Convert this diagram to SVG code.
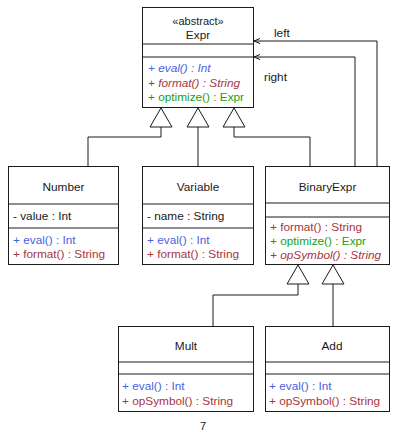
<svg xmlns="http://www.w3.org/2000/svg" width="394" height="432" viewBox="0 0 394 432">
<defs>
<style>
.box{fill:#fff;stroke:#1a1a1a;stroke-width:1}
.ln{fill:none;stroke:#1a1a1a;stroke-width:1}
.tri{fill:#fff;stroke:#1a1a1a;stroke-width:1}
text{font-family:"Liberation Sans",Arial,sans-serif;font-size:11.8px;fill:#1a1a1a}
.c{text-anchor:middle}
.b{fill:#4c5fe0}
.r{fill:#a8343f}
.g{fill:#16a016}
.i{font-style:italic}
</style>
<marker id="open" markerWidth="10" markerHeight="10" refX="8" refY="5" orient="auto" markerUnits="userSpaceOnUse">
<path d="M2,2.5 L8,5 L2,7.5" fill="none" stroke="#1a1a1a" stroke-width="1"/>
</marker>
</defs>
<rect width="394" height="432" fill="#fff"/>
<g id="connectors">
<path class="ln" d="M161,127 V137 H88 V166"/>
<path class="ln" d="M198,127 V166"/>
<path class="ln" d="M234,127 V137 H310 V166"/>
<path class="ln" d="M377,166 V41 H254" marker-end="url(#open)"/>
<path class="ln" d="M355,166 V57 H254" marker-end="url(#open)"/>
<polygon class="tri" points="161,108 150,127 172,127"/>
<polygon class="tri" points="198,108 187,127 209,127"/>
<polygon class="tri" points="234,108 223,127 245,127"/>
<path class="ln" d="M298,284 V295 H213 V326"/>
<path class="ln" d="M333,284 V326"/>
<polygon class="tri" points="298,265 287,284 309,284"/>
<polygon class="tri" points="333,265 322,284 344,284"/>
<text x="274" y="37">left</text>
<text x="264" y="81">right</text>
</g>
<g id="Expr">
<rect class="box" x="142.5" y="7.5" width="111" height="100"/>
<line class="ln" x1="142.5" y1="44" x2="253.5" y2="44"/>
<line class="ln" x1="142.5" y1="57" x2="253.5" y2="57"/>
<text class="c" x="198" y="24.5" style="font-size:11px">«abstract»</text>
<text class="c" x="198" y="39">Expr</text>
<text class="b i" x="148" y="72">+ eval() : Int</text>
<text class="r i" x="148" y="86.5">+ format() : String</text>
<text class="g" x="148" y="101">+ optimize() : Expr</text>
</g>
<g id="Number">
<rect class="box" x="8.5" y="166.5" width="110" height="98"/>
<line class="ln" x1="8.5" y1="204" x2="118.5" y2="204"/>
<line class="ln" x1="8.5" y1="228" x2="118.5" y2="228"/>
<text class="c" x="63.5" y="191">Number</text>
<text x="13" y="220">- value : Int</text>
<text class="b" x="13" y="244">+ eval() : Int</text>
<text class="r" x="13" y="258">+ format() : String</text>
</g>
<g id="Variable">
<rect class="box" x="142.5" y="166.5" width="111" height="98"/>
<line class="ln" x1="142.5" y1="204" x2="253.5" y2="204"/>
<line class="ln" x1="142.5" y1="228" x2="253.5" y2="228"/>
<text class="c" x="198" y="191">Variable</text>
<text x="147" y="220">- name : String</text>
<text class="b" x="147" y="244">+ eval() : Int</text>
<text class="r" x="147" y="258">+ format() : String</text>
</g>
<g id="BinaryExpr">
<rect class="box" x="265.5" y="166.5" width="124" height="98"/>
<line class="ln" x1="265.5" y1="203" x2="389.5" y2="203"/>
<line class="ln" x1="265.5" y1="217" x2="389.5" y2="217"/>
<text class="c" x="327.5" y="191">BinaryExpr</text>
<text class="r" x="270" y="231">+ format() : String</text>
<text class="g" x="270" y="245">+ optimize() : Expr</text>
<text class="r i" x="270" y="259">+ opSymbol() : String</text>
</g>
<g id="Mult">
<rect class="box" x="118.5" y="326.5" width="135" height="85"/>
<line class="ln" x1="118.5" y1="362" x2="253.5" y2="362"/>
<line class="ln" x1="118.5" y1="374" x2="253.5" y2="374"/>
<text class="c" x="186" y="350">Mult</text>
<text class="b" x="122" y="390">+ eval() : Int</text>
<text class="r" x="122" y="404.5">+ opSymbol() : String</text>
</g>
<g id="Add">
<rect class="box" x="265.5" y="326.5" width="124" height="85"/>
<line class="ln" x1="265.5" y1="362" x2="389.5" y2="362"/>
<line class="ln" x1="265.5" y1="374" x2="389.5" y2="374"/>
<text class="c" x="332" y="350">Add</text>
<text class="b" x="269" y="390">+ eval() : Int</text>
<text class="r" x="269" y="404.5">+ opSymbol() : String</text>
</g>
<text class="c" x="203" y="430" style="font-size:11px">7</text>
</svg>
